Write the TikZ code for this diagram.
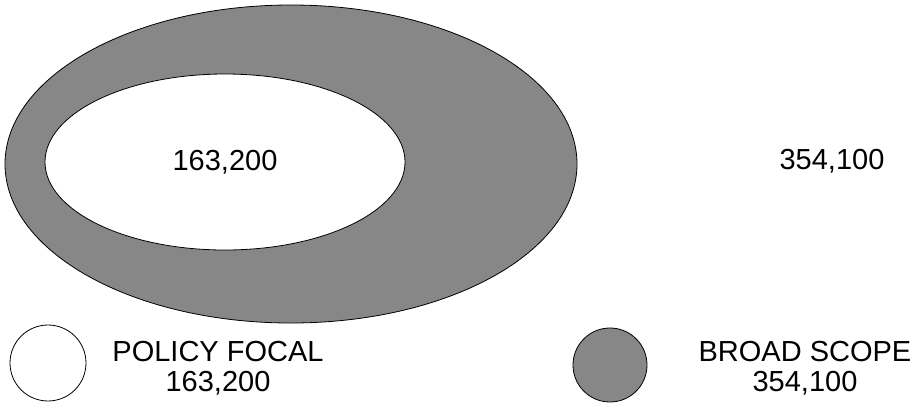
\documentclass[tikz,border=0pt]{standalone}
\usepackage{fontspec}
\setmainfont{Liberation Sans}
\begin{document}
\begin{tikzpicture}[x=1pt,y=-1pt,font=\fontsize{29}{30}\selectfont]
\tikzset{scope-fill/.style={fill=black!47,draw=black,line width=0.8pt},
  focal-fill/.style={fill=white,draw=black,line width=0.8pt},
  count-label/.style={inner sep=0pt,align=center}}
\useasboundingbox (0,0) rectangle (921,408);
\path[scope-fill] (291,164) ellipse [x radius=286,y radius=159];
\path[focal-fill] (225,162) ellipse [x radius=180,y radius=88];
\node[count-label] (focal-count) at (225,162) {163,200};
\node[count-label] (scope-count) at (832,161) {354,100};
\path[focal-fill] (48,363) circle [radius=38];
\node[count-label] (legend-0) at (218,368) {POLICY FOCAL\\163,200};
\path[scope-fill] (610,365) circle [radius=37];
\node[count-label] (legend-1) at (805,368) {BROAD SCOPE\\354,100};
\end{tikzpicture}
\end{document}
